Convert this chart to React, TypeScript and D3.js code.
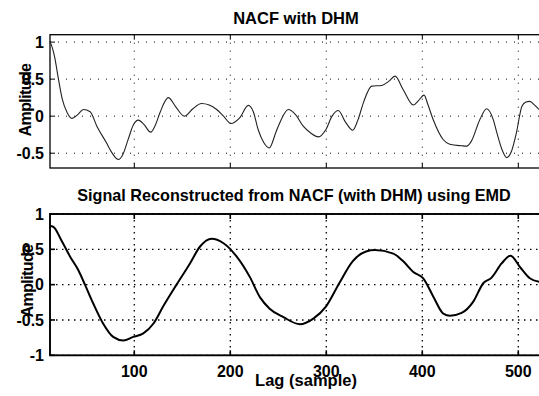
import React from "react";
import * as d3 from "d3";

// NACF with DHM (top)
const nacfLag = [12, 14, 17, 21, 25, 30, 35, 41, 47, 54, 61, 71, 77, 83.3, 88, 93.7, 99, 104.2, 110, 117, 122, 126.7, 135.4, 143, 152, 161, 170, 178, 185.8, 193, 200.7, 210, 218.7, 224, 229, 235, 240.5, 248, 254, 260.4, 268, 276, 284, 291.7, 299.6, 306, 312.5, 320, 327.5, 333, 338.6, 347.3, 357.7, 365, 371.6, 380, 390.6, 396, 401.8, 406, 411.3, 421.7, 428.6, 441, 446.3, 451, 460, 467, 474, 477.7, 483, 487.9, 493, 498, 503.8, 508, 512, 517, 521.6];
const nacfVal = [1.01, 0.95, 0.8, 0.5, 0.23, 0.05, -0.03, 0.02, 0.09, 0.06, -0.135, -0.36, -0.5, -0.585, -0.52, -0.31, -0.12, -0.054, -0.11, -0.216, -0.12, 0.045, 0.25, 0.13, 0.0, 0.1, 0.17, 0.15, 0.09, 0.0, -0.1, -0.02, 0.145, 0.06, -0.18, -0.36, -0.43, -0.2, -0.02, 0.09, 0.02, -0.135, -0.23, -0.28, -0.18, 0.0, 0.077, -0.08, -0.19, -0.05, 0.18, 0.405, 0.415, 0.47, 0.54, 0.36, 0.15, 0.21, 0.284, 0.15, -0.045, -0.315, -0.38, -0.4, -0.405, -0.34, -0.045, 0.1, -0.05, -0.225, -0.45, -0.56, -0.47, -0.225, 0.135, 0.19, 0.2, 0.15, 0.09];

// Signal reconstructed from NACF using EMD (bottom)
const emdLag = [12, 15.5, 24, 33, 41.5, 48.6, 57, 67.5, 78, 88.5, 99, 109.4, 120, 130, 144, 158, 168.5, 180.6, 192.6, 206.5, 220.3, 231, 241, 255.3, 272.6, 286.5, 299.6, 313.5, 327.4, 341.4, 350.7, 369.8, 380.2, 390.6, 401, 411.5, 421.9, 428.9, 441, 453.1, 463.5, 472.2, 482.6, 492, 501.7, 512, 521.6];
const emdVal = [0.83, 0.82, 0.63, 0.4, 0.21, 0.0, -0.26, -0.55, -0.74, -0.79, -0.74, -0.69, -0.55, -0.31, 0.0, 0.3, 0.54, 0.65, 0.59, 0.4, 0.11, -0.18, -0.34, -0.46, -0.56, -0.48, -0.31, 0.02, 0.33, 0.47, 0.49, 0.44, 0.33, 0.18, 0.09, -0.17, -0.41, -0.44, -0.4, -0.24, 0.02, 0.1, 0.3, 0.41, 0.25, 0.09, 0.04];

const xTicks = [100, 200, 300, 400, 500];
const topYTicks = [-0.5, 0, 0.5, 1];
const topYLabels = ["-0.5", "0", "0.5", "1"];
const botYTicks = [-1, -0.5, 0, 0.5, 1];
const botYLabels = ["-1", "-0.5", "0", "0.5", "1"];

const W = 539;
const H = 396;
const FONT = "'Liberation Sans', Arial, Helvetica, sans-serif";

export default function App() {
  const x = d3.scaleLinear().domain([12.2, 530]).range([50, 547.1]);
  const yTop = d3.scaleLinear().domain([-0.7, 1.1]).range([168, 34.7]);
  const yBot = d3.scaleLinear().domain([-1, 1]).range([355.3, 214]);

  const topData = nacfLag.map((l, i) => [l, nacfVal[i]] as [number, number]);
  const botData = emdLag.map((l, i) => [l, emdVal[i]] as [number, number]);

  const lineTop = d3
    .line<[number, number]>()
    .x((d) => x(d[0]))
    .y((d) => yTop(d[1]))
    .curve(d3.curveMonotoneX);
  const lineBot = d3
    .line<[number, number]>()
    .x((d) => x(d[0]))
    .y((d) => yBot(d[1]))
    .curve(d3.curveMonotoneX);

  const [x0, x1] = x.range();

  const panel = (
    y: d3.ScaleLinear<number, number>,
    yTicks: number[],
    yLabels: string[],
    lineW: number,
    grid: string,
    showXLabels: boolean
  ) => {
    const [yb, yt] = y.range();
    return (
      <g>
        {xTicks.map((t) => (
          <line key={"gx" + t} x1={x(t)} x2={x(t)} y1={yt} y2={yb} stroke="#000" strokeWidth={lineW === 1 ? 1 : 1.3} strokeDasharray={grid} />
        ))}
        {yTicks.map((t) => (
          <line key={"gy" + t} x1={x0} x2={x1} y1={y(t)} y2={y(t)} stroke="#000" strokeWidth={lineW === 1 ? 1 : 1.3} strokeDasharray={grid} />
        ))}
        {xTicks.map((t) => (
          <g key={"tx" + t}>
            <line x1={x(t)} x2={x(t)} y1={yb} y2={yb - 5} stroke="#000" strokeWidth={lineW} />
            <line x1={x(t)} x2={x(t)} y1={yt} y2={yt + 5} stroke="#000" strokeWidth={lineW} />
          </g>
        ))}
        {yTicks.map((t) => (
          <line key={"ty" + t} x1={x0} x2={x0 + 5} y1={y(t)} y2={y(t)} stroke="#000" strokeWidth={lineW} />
        ))}
        <rect x={x0} y={yt} width={x1 - x0} height={yb - yt} fill="none" stroke="#000" strokeWidth={lineW + 0.3} />
        {yTicks.map((t, i) => (
          <text key={"ly" + t} x={44} y={y(t)} dy="0.36em" textAnchor="end" fontFamily={FONT} fontWeight="bold" fontSize={16}>
            {yLabels[i]}
          </text>
        ))}
        {showXLabels &&
          xTicks.map((t) => (
            <text key={"lx" + t} x={x(t)} y={376.5} textAnchor="middle" fontFamily={FONT} fontWeight="bold" fontSize={16}>
              {t}
            </text>
          ))}
      </g>
    );
  };

  return (
    <div style={{ position: "absolute", left: 0, top: 0 }}>
      <svg width={W} height={H} style={{ display: "block", background: "#fff" }}>
        <rect x={0} y={0} width={W} height={H} fill="#fff" />
        {panel(yTop, topYTicks, topYLabels, 1, "1 7", false)}
        <path d={lineTop(topData) || ""} fill="none" stroke="#222" strokeWidth={1.1} />
        {panel(yBot, botYTicks, botYLabels, 1.6, "1.5 4.5", true)}
        <path d={lineBot(botData) || ""} fill="none" stroke="#000" strokeWidth={2} />
        <text x={296} y={23.5} textAnchor="middle" fontFamily={FONT} fontWeight="bold" fontSize={16.5}>
          NACF with DHM
        </text>
        <text x={294} y={201} textAnchor="middle" fontFamily={FONT} fontWeight="bold" fontSize={16.2}>
          Signal Reconstructed from NACF (with DHM) using EMD
        </text>
        <text transform="translate(31,100) rotate(-90)" textAnchor="middle" fontFamily={FONT} fontWeight="bold" fontSize={16} letterSpacing={-0.6}>
          Amplitude
        </text>
        <text transform="translate(33,281) rotate(-90)" textAnchor="middle" fontFamily={FONT} fontWeight="bold" fontSize={16} letterSpacing={-0.6}>
          Amplitude
        </text>
        <text x={306} y={386} textAnchor="middle" fontFamily={FONT} fontWeight="bold" fontSize={16.5}>
          Lag (sample)
        </text>
      </svg>
    </div>
  );
}
